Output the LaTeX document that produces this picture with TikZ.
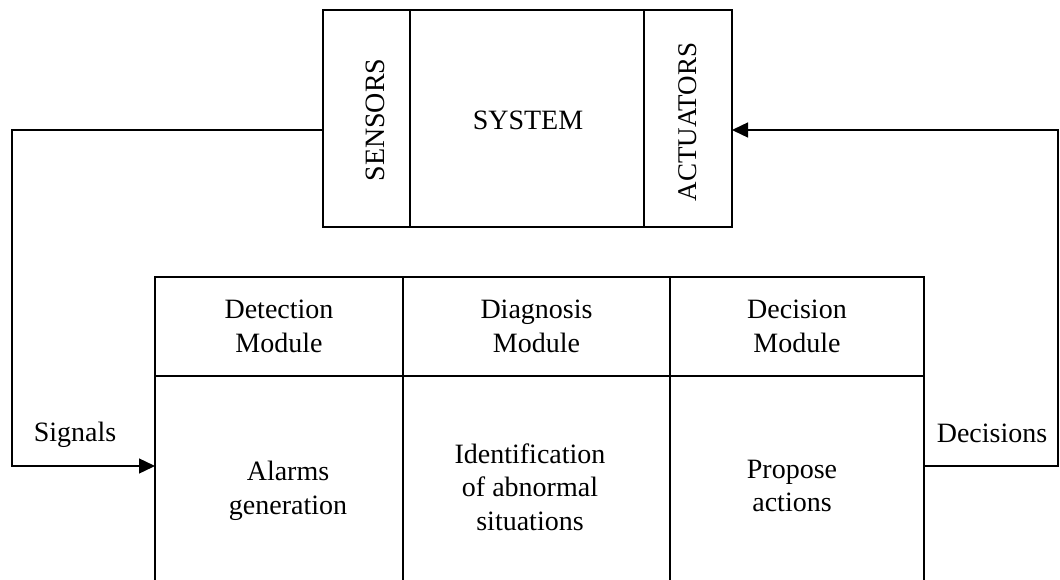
\documentclass[tikz,border=0pt]{standalone}
\usepackage{fontspec}
\setmainfont{Liberation Serif}
\usetikzlibrary{arrows.meta,calc}
\begin{document}
\begin{tikzpicture}[x=1pt,y=-1pt,
  box/.style={draw,line width=1.4pt,inner sep=0pt,outer sep=0pt},
  txt/.style={inner sep=0pt,align=center,font=\fontsize{28}{33.5}\selectfont},
  link/.style={line width=1.4pt},
  tip/.style={-{Triangle[length=16pt,width=15pt]}}]
\useasboundingbox (0,0) rectangle (1060,580);

% plant: sensors | system | actuators
\node[box,minimum width=87pt,minimum height=217pt] (sens) at (366.5,118.5) {};
\node[box,minimum width=234pt,minimum height=217pt] (sys) at (527,118.5) {};
\node[box,minimum width=88pt,minimum height=217pt] (act) at (688,118.5) {};
\node[txt,rotate=90] (senslbl) at (375,120) {SENSORS};
\node[txt] (syslbl) at (528,120) {SYSTEM};
\node[txt,rotate=90,font=\fontsize{27}{32}\selectfont] (actlbl) at (688,122) {ACTUATORS};

% supervision modules: headers
\node[box,minimum width=248pt,minimum height=99pt] (dethead) at (279,326.5) {};
\node[box,minimum width=267pt,minimum height=99pt] (diahead) at (536.5,326.5) {};
\node[box,minimum width=254pt,minimum height=99pt] (dechead) at (797,326.5) {};
\node[txt] at (dethead.center) {Detection\\Module};
\node[txt] at (diahead.center) {Diagnosis\\Module};
\node[txt] at (dechead.center) {Decision\\Module};

% supervision modules: bodies
\node[box,minimum width=248pt,minimum height=224pt] (detbody) at (279,488) {};
\node[box,minimum width=267pt,minimum height=224pt] (diabody) at (536.5,488) {};
\node[box,minimum width=254pt,minimum height=224pt] (decbody) at (797,488) {};
\node[txt] at (288,491) {Alarms\\generation};
\node[txt] at (530,487) {Identification\\of abnormal\\situations};
\node[txt] at (792,486) {Propose\\actions};

% loop corners
\coordinate (sigy) at (0,130);
\coordinate (flowy) at (0,466);
\coordinate (lc) at (12,0);
\coordinate (rc) at (1058,0);

% signals from sensors to detection
\draw[link,tip] (sens.west |- sigy) -- (lc |- sigy) -- (lc |- flowy) -- (detbody.west |- flowy);
% decisions back to actuators
\draw[link,tip] (decbody.east |- flowy) -- (rc |- flowy) -- (rc |- sigy) -- (act.east |- sigy);

\node[txt] (siglbl) at (75,435) {Signals};
\node[txt] (declbl) at (992,433) {Decisions};
\end{tikzpicture}
\end{document}
